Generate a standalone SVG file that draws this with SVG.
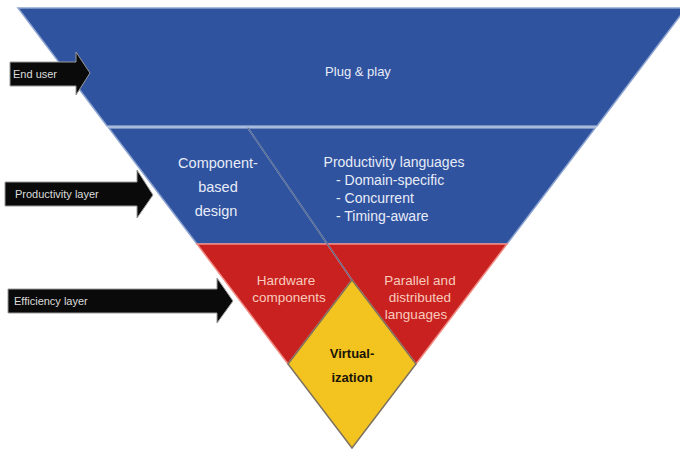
<svg xmlns="http://www.w3.org/2000/svg" width="680" height="450" viewBox="0 0 680 450">
<style>
.blue{fill:#2f539f;stroke:#8ea4d0;stroke-width:1.5}
.red{fill:#c8211f;stroke:#f08c84;stroke-width:1.5}
.yellow{fill:#f3c320;stroke:#7d7260;stroke-width:1.5}
.arr{fill:#0a0a0a;stroke:#9a9a9a;stroke-width:1}
.wt{font-family:"Liberation Sans",Arial,sans-serif;fill:#e8ecf8;font-size:14px;text-anchor:middle}
.wl{font-family:"Liberation Sans",Arial,sans-serif;fill:#e8ecf8;font-size:14px;text-anchor:start}
.rt{font-family:"Liberation Sans",Arial,sans-serif;fill:#f8cbbd;font-size:13.5px;text-anchor:middle}
.yt{font-family:"Liberation Sans",Arial,sans-serif;fill:#1a1408;font-size:13px;font-weight:bold;text-anchor:middle}
.at{font-family:"Liberation Sans",Arial,sans-serif;fill:#dcdcdc;font-size:11px}
.div{stroke:#56698f;stroke-width:1.2;fill:none}
</style>
<rect width="680" height="450" fill="#ffffff"/>
<g id="plug-and-play">
<polygon class="blue" points="18,8 686,8 597,126 107,126"/>
<text class="wt" x="358" y="76" style="font-size:13px">Plug &amp; play</text>
</g>
<g id="component-based-design">
<polygon class="blue" points="108.8,128 248,128 327.4,244 197,244"/>
<text class="wt" x="218" y="168" style="font-size:14.5px">Component-</text>
<text class="wt" x="218" y="192" style="font-size:14.5px">based</text>
<text class="wt" x="216" y="216" style="font-size:14.5px">design</text>
</g>
<g id="productivity-languages">
<polygon class="blue" points="248,128 595.2,128 507,244 327.4,244"/>
<text class="wt" x="394" y="167">Productivity languages</text>
<text class="wl" x="336" y="185">- Domain-specific</text>
<text class="wl" x="336" y="203">- Concurrent</text>
<text class="wl" x="336" y="221">- Timing-aware</text>
</g>
<g id="hardware-components">
<polygon class="red" points="197,244 327.4,244 352,280 288,364"/>
<text class="rt" x="286" y="285">Hardware</text>
<text class="rt" x="289" y="302">components</text>
</g>
<g id="parallel-distributed-languages">
<polygon class="red" points="327.4,244 507,244 416,364 352,280"/>
<text class="rt" x="420" y="285">Parallel and</text>
<text class="rt" x="420" y="302">distributed</text>
<text class="rt" x="416" y="319">languages</text>
</g>
<line class="div" x1="248" y1="128" x2="352" y2="280"/>
<g id="virtualization">
<polygon class="yellow" points="352,280 416,364 352,448 288,364"/>
<text class="yt" x="352" y="358">Virtual-</text>
<text class="yt" x="352" y="382">ization</text>
</g>
<g id="connectors">
<g id="end-user">
<polygon class="arr" points="10,62 76,62 76,52 90,73 76,95 76,86 10,86"/>
<text class="at" x="13" y="78">End user</text>
</g>
<g id="productivity-layer">
<polygon class="arr" points="5,182 137,182 137,170 153,195 137,218 137,206 5,206"/>
<text class="at" x="15" y="198">Productivity layer</text>
</g>
<g id="efficiency-layer">
<polygon class="arr" points="8,289 217,289 217,278 233,301 217,323 217,313 8,313"/>
<text class="at" x="14" y="305">Efficiency layer</text>
</g>
</g>
</svg>
